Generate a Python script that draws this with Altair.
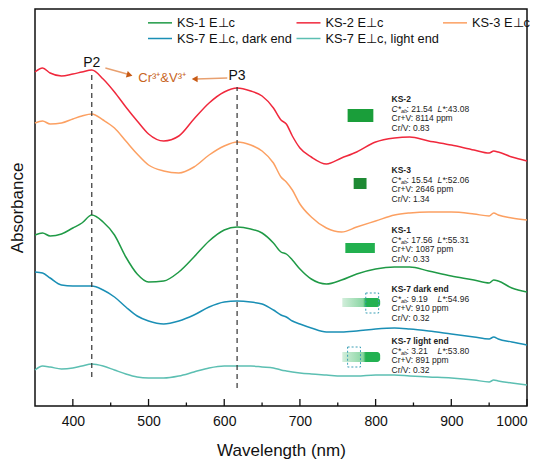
import altair as alt
import pandas as pd

# ---------------- data ----------------
wavelength = [350, 360, 370, 385, 400, 412, 425, 440, 455, 470, 485, 500, 520, 540, 560, 580,
              600, 617, 635, 650, 665, 675, 682, 690, 700, 715, 735, 755, 775, 800, 825, 845,
              870, 900, 930, 950, 956, 962, 980, 1000]

ks2 = [3.34, 3.38, 3.33, 3.30, 3.32, 3.34, 3.36, 3.27, 3.14, 2.99, 2.85, 2.72, 2.65, 2.70, 2.87, 3.03,
       3.14, 3.18, 3.15, 3.10, 2.98, 2.86, 2.82, 2.70, 2.58, 2.49, 2.42, 2.48, 2.54, 2.64, 2.68, 2.69,
       2.65, 2.61, 2.56, 2.53, 2.55, 2.54, 2.49, 2.45]
ks3 = [2.83, 2.85, 2.82, 2.83, 2.87, 2.90, 2.92, 2.86, 2.78, 2.65, 2.52, 2.41, 2.35, 2.33, 2.39, 2.51,
       2.60, 2.64, 2.61, 2.55, 2.43, 2.29, 2.24, 2.16, 2.02, 1.89, 1.78, 1.74, 1.79, 1.85, 1.91, 1.93,
       1.94, 1.94, 1.92, 1.90, 1.93, 1.91, 1.88, 1.86]
ks1 = [1.71, 1.73, 1.70, 1.72, 1.78, 1.83, 1.91, 1.84, 1.71, 1.49, 1.32, 1.24, 1.25, 1.34, 1.49, 1.65,
       1.76, 1.79, 1.77, 1.73, 1.63, 1.54, 1.52, 1.46, 1.37, 1.27, 1.22, 1.26, 1.32, 1.37, 1.39, 1.39,
       1.35, 1.30, 1.26, 1.23, 1.26, 1.25, 1.18, 1.14]
ks7_dark = [1.34, 1.33, 1.28, 1.21, 1.20, 1.20, 1.20, 1.16, 1.09, 0.99, 0.90, 0.85, 0.82, 0.85, 0.91, 0.99,
            1.04, 1.05, 1.04, 1.02, 0.96, 0.91, 0.89, 0.85, 0.82, 0.78, 0.74, 0.74, 0.75, 0.77, 0.78, 0.77,
            0.75, 0.72, 0.69, 0.67, 0.69, 0.67, 0.64, 0.61]
ks7_light = [0.36, 0.40, 0.39, 0.37, 0.38, 0.40, 0.42, 0.40, 0.36, 0.32, 0.29, 0.28, 0.28, 0.30, 0.34, 0.38,
             0.40, 0.40, 0.40, 0.39, 0.38, 0.36, 0.35, 0.34, 0.33, 0.32, 0.31, 0.30, 0.30, 0.31, 0.31, 0.30,
             0.29, 0.28, 0.26, 0.24, 0.26, 0.25, 0.23, 0.21]

series_names = ["KS-1 E\u22a5c", "KS-2 E\u22a5c", "KS-3 E\u22a5c",
                "KS-7 E\u22a5c, dark end", "KS-7 E\u22a5c, light end"]
series_values = [ks1, ks2, ks3, ks7_dark, ks7_light]
series_colors = ["#1f9a46", "#f0283c", "#fca062", "#1a8fb5", "#5cbfb2"]

x_ticks_major = [400, 500, 600, 700, 800, 900, 1000]
x_ticks_minor = [450, 550, 650, 750, 850, 950]

# sample annotation blocks
samples = ["KS-2", "KS-3", "KS-1", "KS-7 dark end", "KS-7 light end"]
chroma = ["21.54", "15.54", "17.56", "9.19", "3.21"]
lightness = ["43.08", "52.06", "55.31", "54.96", "53.80"]
cr_v_sum = ["8114", "2646", "1087", "910", "891"]
cr_v_ratio = ["0.83", "1.34", "0.33", "0.32", "0.32"]
block_top = [3.07, 2.36, 1.76, 1.17, 0.65]
block_x = 821

peaks = ["P2", "P3"]
peak_nm = [425, 617]
peak_label_y = [3.43, 3.30]
peak_line_top = [3.33, 3.19]
peak_line_bottom = [0.29, 0.18]

FONT = "Liberation Sans"

# ---------------- frames ----------------
rows = []
for name, vals in zip(series_names, series_values):
    for w, v in zip(wavelength, vals):
        rows.append({"wavelength": w, "A": v, "series": name})
df = pd.DataFrame(rows)

xscale = alt.Scale(domain=[350, 1000], nice=False, zero=False)
yscale = alt.Scale(domain=[0, 3.97], nice=False, zero=False)

lines = alt.Chart(df).mark_line(strokeWidth=1.5, interpolate="monotone").encode(
    x=alt.X("wavelength:Q", scale=xscale,
            axis=alt.Axis(values=x_ticks_major, format="d", ticks=False, domain=False, grid=False,
                          labelFontSize=14, labelPadding=8, labelFont=FONT, labelColor="#111",
                          title="Wavelength (nm)", titleFontSize=17, titleFont=FONT,
                          titleFontWeight="normal", titlePadding=14, titleColor="#111")),
    y=alt.Y("A:Q", scale=yscale,
            axis=alt.Axis(labels=False, ticks=False, domain=False, grid=False,
                          title="Absorbance", titleFontSize=17, titleFont=FONT,
                          titleFontWeight="normal", titlePadding=9, titleColor="#111")),
    color=alt.Color("series:N", sort=series_names,
                    scale=alt.Scale(domain=series_names, range=series_colors),
                    legend=alt.Legend(title=None, orient="none", legendX=116.5, legendY=5,
                                      direction="horizontal",
                                      columns=3, symbolType="M-1.6,0H1.6", symbolSize=225,
                                      symbolStrokeWidth=1.5, labelFontSize=12.8, labelFont=FONT,
                                      labelColor="#111", labelOffset=8.5, columnPadding=0.5,
                                      rowPadding=0, padding=0, labelLimit=300)),
)

# inward ticks on the bottom axis
tick_df = pd.DataFrame(
    [{"t": t, "y0": 0, "y1": 0.07} for t in x_ticks_major] +
    [{"t": t, "y0": 0, "y1": 0.035} for t in x_ticks_minor])
ticks = alt.Chart(tick_df).mark_rule(color="#111", strokeWidth=1.3).encode(
    x=alt.X("t:Q", scale=xscale), y=alt.Y("y0:Q", scale=yscale), y2="y1:Q")

# dashed peak lines
peak_df = pd.DataFrame({"peak": peaks, "nm": peak_nm, "ly": peak_label_y,
                        "top": peak_line_top, "bottom": peak_line_bottom})
peak_lines = alt.Chart(peak_df).mark_rule(color="#333", strokeWidth=1.2, strokeDash=[5, 4]).encode(
    x=alt.X("nm:Q", scale=xscale), y=alt.Y("bottom:Q", scale=yscale), y2="top:Q")
peak_text = alt.Chart(peak_df).mark_text(fontSize=14, font=FONT, color="#111",
                                         baseline="middle", align="center").encode(
    x=alt.X("nm:Q", scale=xscale), y=alt.Y("ly:Q", scale=yscale), text="peak:N")

# Cr3+ & V3+ label and arrows
ion_df = pd.DataFrame({"nm": [518], "y": [3.28], "t": ["Cr\u00b3\u207a&V\u00b3\u207a"]})
ion_text = alt.Chart(ion_df).mark_text(fontSize=13, font=FONT, color="#c8651e",
                                       baseline="middle", align="center").encode(
    x=alt.X("nm:Q", scale=xscale), y=alt.Y("y:Q", scale=yscale), text="t:N")
arrow_df = pd.DataFrame({"x": [443, 604], "y": [3.38, 3.28], "x2": [474, 563], "y2": [3.315, 3.27]})
arrow_lines = alt.Chart(arrow_df).mark_rule(color="#e8a070", strokeWidth=1.3).encode(
    x=alt.X("x:Q", scale=xscale), y=alt.Y("y:Q", scale=yscale), x2="x2:Q", y2="y2:Q")
head1 = alt.Chart(pd.DataFrame({"x": [475], "y": [3.31]})).mark_point(
    shape="triangle-right", filled=True, size=45, angle=16, color="#c85a14", opacity=1).encode(
    x=alt.X("x:Q", scale=xscale), y=alt.Y("y:Q", scale=yscale))
head2 = alt.Chart(pd.DataFrame({"x": [561], "y": [3.27]})).mark_point(
    shape="triangle-left", filled=True, size=45, color="#c85a14", opacity=1).encode(
    x=alt.X("x:Q", scale=xscale), y=alt.Y("y:Q", scale=yscale))

# text blocks
step = 0.095
blk = pd.DataFrame({
    "x": [block_x] * 5,
    "y0": block_top,
    "y1": [b - step for b in block_top],
    "y2": [b - 2 * step for b in block_top],
    "y3": [b - 3 * step for b in block_top],
    "name": samples,
    "cv": [": " + c for c in chroma],
    "lv": [":" + l for l in lightness],
    "sum": ["Cr+V: " + s + " ppm" for s in cr_v_sum],
    "ratio": ["Cr/V: " + r for r in cr_v_ratio],
    "C": ["C*"] * 5, "ab": ["ab"] * 5, "L": ["L*"] * 5,
})

def txt(ycol, tcol, dx=0, dy=0, size=8.5, weight="normal", style="normal"):
    return alt.Chart(blk).mark_text(align="left", baseline="middle", font=FONT, fontSize=size,
                                    fontWeight=weight, fontStyle=style, color="#222",
                                    dx=dx, dy=dy).encode(
        x=alt.X("x:Q", scale=xscale), y=alt.Y(ycol + ":Q", scale=yscale), text=tcol + ":N")

texts = [
    txt("y0", "name", weight="bold"),
    txt("y1", "C", style="italic"),
    txt("y1", "ab", dx=9.5, dy=2.5, size=5.5, style="italic"),
    txt("y1", "cv", dx=15),
    txt("y1", "L", dx=46, style="italic"),
    txt("y1", "lv", dx=54),
    txt("y2", "sum"),
    txt("y3", "ratio"),
]

# gem sketches
gems = pd.DataFrame({
    "x": [763, 771, 760],
    "x2": [797, 788, 799],
    "y": [2.97, 2.28, 1.63],
    "y2": [2.84, 2.17, 1.53],
    "c": ["#1a9e3a", "#1e8a34", "#22b04f"],
})
gem_rects = alt.Chart(gems).mark_rect().encode(
    x=alt.X("x:Q", scale=xscale), x2="x2:Q", y=alt.Y("y:Q", scale=yscale), y2="y2:Q",
    color=alt.Color("c:N", scale=None, legend=None))

grad = alt.Gradient(gradient="linear", x1=0, x2=1, y1=0, y2=0,
                    stops=[alt.GradientStop(color="#d2eedb", offset=0),
                           alt.GradientStop(color="#8ad6a3", offset=0.55),
                           alt.GradientStop(color="#23b152", offset=0.62),
                           alt.GradientStop(color="#23b152", offset=1)])
bars = pd.DataFrame({"x": [756, 756], "x2": [806, 806], "y": [1.08, 0.54], "y2": [0.99, 0.44]})
gem_bars = alt.Chart(bars).mark_rect(color=grad, cornerRadiusTopRight=3,
                                     cornerRadiusBottomRight=3).encode(
    x=alt.X("x:Q", scale=xscale), x2="x2:Q", y=alt.Y("y:Q", scale=yscale), y2="y2:Q")
boxes = pd.DataFrame({"x": [787, 763], "x2": [804, 780], "y": [1.13, 0.59], "y2": [0.93, 0.39]})
gem_boxes = alt.Chart(boxes).mark_rect(fill=None, fillOpacity=0, stroke="#3a9fb5", strokeWidth=1,
                                       strokeDash=[2, 2]).encode(
    x=alt.X("x:Q", scale=xscale), x2="x2:Q", y=alt.Y("y:Q", scale=yscale), y2="y2:Q")

chart = alt.layer(
    lines, ticks, peak_lines, peak_text, ion_text, arrow_lines, head1, head2,
    gem_rects, gem_bars, gem_boxes, *texts
).properties(
    width=492, height=397,
    autosize=alt.AutoSizeParams(type="none"),
    padding={"left": 27, "top": 1, "right": 15, "bottom": 58},
    background="white",
).configure_view(
    stroke="#111", strokeWidth=1.5
)

chart.save("out.html", embed_options={"renderer": "svg", "actions": False})
